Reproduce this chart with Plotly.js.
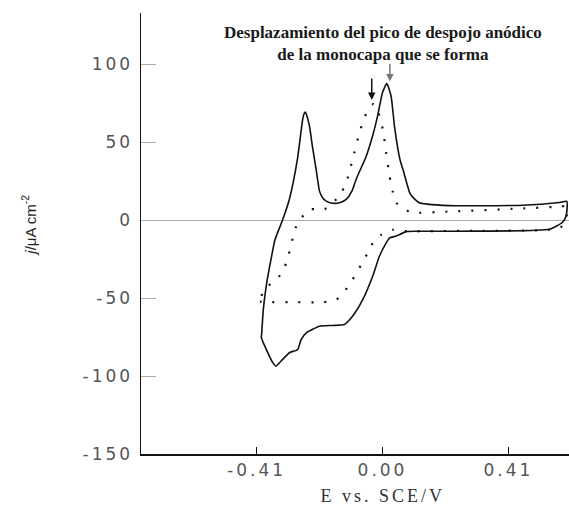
<!DOCTYPE html>
<html>
<head>
<meta charset="utf-8">
<script src="https://cdn.plot.ly/plotly-3.0.1.min.js"></script>
<style>
  html, body { margin: 0; padding: 0; background: #fff; }
  #chart { width: 569px; height: 505px; }
  .xtick text, .ytick text { letter-spacing: 3px; }
  .annotation[data-index="1"] text { letter-spacing: 3px; }
</style>
</head>
<body>
<div id="chart"></div>
<script>
// Solid voltammogram: potential (V vs SCE) and current density (µA cm^-2)
const solidE = [-0.393, -0.388, -0.377, -0.361, -0.350, -0.325, -0.303, -0.277, -0.260, -0.255, -0.2515, -0.247,
  -0.2375, -0.228, -0.216, -0.205, -0.195, -0.183, -0.170, -0.156, -0.140, -0.118, -0.100, -0.086, -0.053, -0.0325,
  -0.016, 0.000, 0.014, 0.028, 0.039, 0.057, 0.067, 0.079, 0.089, 0.100, 0.111, 0.122, 0.160, 0.241, 0.456, 0.576, 0.600,
  0.598, 0.586, 0.543, 0.316, 0.120, 0.077, 0.045, 0.023, 0.012, -0.010, -0.032, -0.064, -0.097, -0.124, -0.162,
  -0.205, -0.248, -0.265, -0.276, -0.303, -0.325, -0.347, -0.357, -0.378, -0.394, -0.393];
const solidJ = [-72.3, -57.4, -40.3, -23.2, -12.5, 0.3, 13.5, 39.0, 64.5, 68.5, 69.4, 67.5,
  60.2, 47.3, 32.6, 18.7, 14.5, 12.3, 11.2, 10.8, 11.2, 13.4, 18.5, 26.2, 41.1, 53.9,
  66.8, 82.0, 87.7, 79.6, 60.3, 38.8, 32.4, 23.8, 17.4, 14.5, 12.5, 11.0, 10.0, 9.3, 9.6, 11.4, 12.1,
  3.0, -1.3, -5.8, -7.0, -7.1, -7.3, -10.1, -11.3, -14.5, -23.1, -35.9, -50.8, -61.5, -66.9, -67.5,
  -68.0, -72.2, -76.6, -82.9, -85.0, -89.3, -93.6, -91.4, -83.0, -75.5, -72.3];

// Dotted voltammogram
const dottedE = [-0.395, -0.394, -0.378, -0.351, -0.330, -0.319, -0.308, -0.297, -0.286, -0.276, -0.254, -0.232,
  -0.189, -0.140, -0.118, -0.097, -0.075, -0.059, -0.042, -0.030, -0.018, 0.001, 0.012, 0.023, 0.034, 0.045,
  0.061, 0.099, 0.185, 0.446, 0.581, 0.600,
  0.597, 0.580, 0.540, 0.300, 0.100, 0.066, 0.034, -0.004, -0.032, -0.042, -0.059, -0.069, -0.086, -0.097,
  -0.113, -0.129, -0.151, -0.194, -0.276, -0.362, -0.395];
const dottedJ = [-52.6, -48.5, -43.1, -38.9, -34.6, -30.3, -23.9, -15.4, -6.9, -1.5, 3.8, 7.1,
  7.0, 15.6, 24.2, 39.1, 56.2, 65.8, 72.5, 74.5, 72.0, 58.3, 43.4, 28.4, 17.8, 11.3,
  8.1, 4.9, 5.3, 7.5, 8.8, 9.2,
  0.0, -4.5, -6.2, -6.8, -7.0, -7.0, -6.1, -9.3, -14.6, -20.0, -24.2, -28.5, -33.8, -38.1,
  -42.4, -47.7, -50.9, -52.6, -52.6, -52.6, -52.6];

const xTickVals = [-0.41, 0.0, 0.41];
const xTickText = ['-0.41', '0.00', '0.41'];
const yTickVals = [-150, -100, -50, 0, 50, 100];
const yTickText = ['-150', '-100', '-50', '0', '50', '100'];

const titleLines = ['Desplazamiento del pico de despojo anódico', 'de la monocapa que se forma'];
const xTitle = 'E vs. SCE/V';
const yTitle = '<i>j</i>/μA cm<sup>-2</sup>';

const traces = [
  { x: solidE, y: solidJ, mode: 'lines', line: { color: '#111', width: 1.6, shape: 'spline', smoothing: 0.5 },
    hoverinfo: 'skip', showlegend: false },
  { x: dottedE, y: dottedJ, mode: 'lines', line: { color: '#111', width: 2.2, dash: '2px,11px', shape: 'spline', smoothing: 0.5 },
    hoverinfo: 'skip', showlegend: false }
];

const layout = {
  width: 569, height: 505,
  margin: { l: 141, r: 0, t: 13, b: 51, pad: 0 },
  paper_bgcolor: '#fff', plot_bgcolor: '#fff',
  showlegend: false,
  xaxis: {
    range: [-0.786, 0.607], showgrid: false, zeroline: false,
    showline: true, linecolor: '#111', linewidth: 2,
    ticks: 'inside', ticklen: 7, tickwidth: 1.5, tickcolor: '#111',
    tickmode: 'array', tickvals: xTickVals, ticktext: xTickText,
    tickfont: { family: 'DejaVu Sans', size: 17, color: '#555' }
  },
  yaxis: {
    range: [-150, 133], showgrid: false,
    zeroline: true, zerolinecolor: '#aaa', zerolinewidth: 1,
    showline: true, linecolor: '#111', linewidth: 1.5,
    ticks: 'inside', ticklen: 15, tickwidth: 1, tickcolor: '#aaa',
    tickmode: 'array', tickvals: yTickVals, ticktext: yTickText,
    tickfont: { family: 'DejaVu Sans', size: 17, color: '#555' },
    ticklabelstandoff: 3
  },
  annotations: [
    { text: titleLines.join('<br>'), xref: 'x', yref: 'y', x: 0.0, y: 113.5, xanchor: 'center', yanchor: 'middle',
      showarrow: false, font: { family: 'Liberation Serif', size: 17, weight: 'bold', color: '#1a1a1a' } },
    { text: xTitle, xref: 'x', yref: 'paper', x: 0.0, y: 0, yanchor: 'middle', yshift: -42,
      showarrow: false, font: { family: 'Liberation Serif', size: 18, color: '#333' } },
    { text: yTitle, xref: 'paper', yref: 'y', x: 0, y: -3.5, xshift: -112, xanchor: 'center', yanchor: 'middle',
      textangle: -90, showarrow: false, font: { family: 'Liberation Sans', size: 15, color: '#222' } },
    { text: '', xref: 'x', yref: 'y', x: -0.035, y: 77.2, ax: 0, ay: -23, showarrow: true,
      arrowhead: 2, arrowsize: 1, arrowwidth: 1.5, arrowcolor: '#111', standoff: 0 },
    { text: '', xref: 'x', yref: 'y', x: 0.024, y: 89, ax: 0, ay: -19, showarrow: true,
      arrowhead: 2, arrowsize: 1, arrowwidth: 1.5, arrowcolor: '#777', standoff: 0 }
  ]
};

Plotly.newPlot('chart', traces, layout, { staticPlot: true, displayModeBar: false });
</script>
</body>
</html>
